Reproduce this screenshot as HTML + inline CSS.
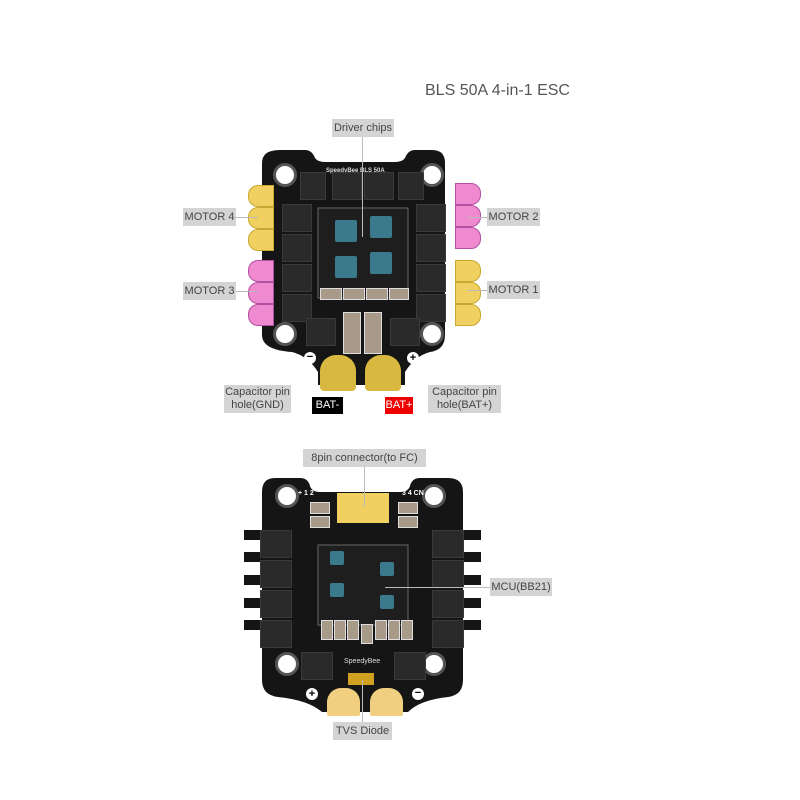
<!DOCTYPE html>
<html><head><style>
body{margin:0;width:800px;height:800px;background:#fff;position:relative;overflow:hidden;font-family:"Liberation Sans",sans-serif}
.a{position:absolute}
.lb{position:absolute;background:#d4d4d4;color:#444;font-size:11px;text-align:center;line-height:18px}
.ln{position:absolute;background:#bbb}
.m{position:absolute;background:#2a2a2a;border:1px solid #3a3a3a}
.chip{position:absolute;background:#3a7a8c;border-radius:2px}
.hole{position:absolute;width:18px;height:18px;border-radius:50%;background:#fff;border:3px solid #555}
.py{position:absolute;width:24px;height:20px;background:#f0d060;border-radius:0 10px 10px 0;border:1px solid #c8a830}
.pp{position:absolute;width:24px;height:20px;background:#f08ad0;border-radius:0 10px 10px 0;border:1px solid #b050a0}
.l{border-radius:10px 0 0 10px}
.cap{position:absolute;background:#a89a88;border:1px solid #ddd}
</style></head><body>
<div class="a" style="left:425px;top:82px;font-size:16px;color:#555">BLS 50A 4-in-1 ESC</div>

<svg class="a" style="left:0;top:0" width="800" height="800">
<path d="M280 150 H305 Q312 150 315 158 Q318 162 325 162 H395 Q402 162 405 158 Q408 150 415 150 H432 Q445 150 445 163 V335 Q445 350 430 352 Q415 356 405 372 V385 H318 V372 Q308 356 292 352 Q262 350 262 335 V163 Q262 150 280 150Z" fill="#151515"/>
<path d="M275 478 H300 Q308 478 310 486 Q312 492 320 492 H400 Q408 492 410 486 Q412 478 420 478 H448 Q463 478 463 492 V680 Q463 695 448 697 Q420 700 408 712 H322 Q308 700 278 697 Q262 695 262 680 V492 Q262 478 275 478Z" fill="#151515"/>
<rect x="244" y="530" width="20" height="10" fill="#151515"/><rect x="244" y="552" width="20" height="10" fill="#151515"/><rect x="244" y="575" width="20" height="10" fill="#151515"/><rect x="244" y="598" width="20" height="10" fill="#151515"/><rect x="244" y="620" width="20" height="10" fill="#151515"/>
<rect x="461" y="530" width="20" height="10" fill="#151515"/><rect x="461" y="552" width="20" height="10" fill="#151515"/><rect x="461" y="575" width="20" height="10" fill="#151515"/><rect x="461" y="598" width="20" height="10" fill="#151515"/><rect x="461" y="620" width="20" height="10" fill="#151515"/>
<rect x="318" y="208" width="90" height="90" fill="#1e1e1e" stroke="#666" stroke-width="1"/>
<rect x="318" y="545" width="90" height="80" fill="#1e1e1e" stroke="#666" stroke-width="1"/>
</svg>
<div class="hole" style="left:273px;top:163px"></div><div class="hole" style="left:420px;top:163px"></div>
<div class="hole" style="left:273px;top:322px"></div><div class="hole" style="left:420px;top:322px"></div>
<div class="a" style="left:326px;top:168px;font-size:6px;color:#ddd;font-weight:bold">SpeedyBee BLS 50A</div>
<div class="m" style="left:300px;top:172px;width:24px;height:26px"></div><div class="m" style="left:332px;top:172px;width:28px;height:26px"></div><div class="m" style="left:364px;top:172px;width:28px;height:26px"></div><div class="m" style="left:398px;top:172px;width:24px;height:26px"></div>
<div class="m" style="left:282px;top:204px;width:28px;height:26px"></div><div class="m" style="left:282px;top:234px;width:28px;height:26px"></div><div class="m" style="left:282px;top:264px;width:28px;height:26px"></div><div class="m" style="left:282px;top:294px;width:28px;height:26px"></div>
<div class="m" style="left:416px;top:204px;width:28px;height:26px"></div><div class="m" style="left:416px;top:234px;width:28px;height:26px"></div><div class="m" style="left:416px;top:264px;width:28px;height:26px"></div><div class="m" style="left:416px;top:294px;width:28px;height:26px"></div>
<div class="m" style="left:306px;top:318px;width:28px;height:26px"></div><div class="m" style="left:390px;top:318px;width:28px;height:26px"></div>
<div class="chip" style="left:335px;top:220px;width:22px;height:22px"></div><div class="chip" style="left:370px;top:216px;width:22px;height:22px"></div>
<div class="chip" style="left:335px;top:256px;width:22px;height:22px"></div><div class="chip" style="left:370px;top:252px;width:22px;height:22px"></div>
<div class="cap" style="left:320px;top:288px;width:20px;height:10px"></div><div class="cap" style="left:343px;top:288px;width:20px;height:10px"></div><div class="cap" style="left:366px;top:288px;width:20px;height:10px"></div><div class="cap" style="left:389px;top:288px;width:18px;height:10px"></div>
<div class="cap" style="left:343px;top:312px;width:16px;height:40px"></div><div class="cap" style="left:364px;top:312px;width:16px;height:40px"></div>
<div class="py l" style="left:248px;top:185px"></div><div class="py l" style="left:248px;top:207px"></div><div class="py l" style="left:248px;top:229px"></div>
<div class="pp l" style="left:248px;top:260px"></div><div class="pp l" style="left:248px;top:282px"></div><div class="pp l" style="left:248px;top:304px"></div>
<div class="pp" style="left:455px;top:183px"></div><div class="pp" style="left:455px;top:205px"></div><div class="pp" style="left:455px;top:227px"></div>
<div class="py" style="left:455px;top:260px"></div><div class="py" style="left:455px;top:282px"></div><div class="py" style="left:455px;top:304px"></div>
<div class="a" style="left:320px;top:355px;width:36px;height:36px;border-radius:16px 16px 4px 4px;background:#d8b840"></div>
<div class="a" style="left:365px;top:355px;width:36px;height:36px;border-radius:16px 16px 4px 4px;background:#d8b840"></div>
<div class="a" style="left:304px;top:352px;width:12px;height:12px;border-radius:50%;background:#fff;font-size:11px;line-height:11px;text-align:center;font-weight:bold">−</div>
<div class="a" style="left:407px;top:352px;width:12px;height:12px;border-radius:50%;background:#fff;font-size:11px;line-height:12px;text-align:center;font-weight:bold">+</div>

<div class="hole" style="left:275px;top:484px"></div><div class="hole" style="left:422px;top:484px"></div>
<div class="hole" style="left:275px;top:652px"></div><div class="hole" style="left:422px;top:652px"></div>
<div class="a" style="left:337px;top:493px;width:52px;height:30px;background:#f0d060"></div>
<div class="cap" style="left:310px;top:502px;width:18px;height:10px"></div><div class="cap" style="left:310px;top:516px;width:18px;height:10px"></div>
<div class="cap" style="left:398px;top:502px;width:18px;height:10px"></div><div class="cap" style="left:398px;top:516px;width:18px;height:10px"></div>
<div class="a" style="left:298px;top:490px;font-size:7px;color:#fff;font-weight:bold">+ 1 2</div>
<div class="a" style="left:402px;top:490px;font-size:7px;color:#fff;font-weight:bold">3 4 CN</div>
<div class="m" style="left:260px;top:530px;width:30px;height:26px"></div><div class="m" style="left:260px;top:560px;width:30px;height:26px"></div><div class="m" style="left:260px;top:590px;width:30px;height:26px"></div><div class="m" style="left:260px;top:620px;width:30px;height:26px"></div>
<div class="m" style="left:432px;top:530px;width:30px;height:26px"></div><div class="m" style="left:432px;top:560px;width:30px;height:26px"></div><div class="m" style="left:432px;top:590px;width:30px;height:26px"></div><div class="m" style="left:432px;top:620px;width:30px;height:26px"></div>
<div class="m" style="left:301px;top:652px;width:30px;height:26px"></div><div class="m" style="left:394px;top:652px;width:30px;height:26px"></div>
<div class="chip" style="left:330px;top:551px;width:14px;height:14px"></div><div class="chip" style="left:380px;top:562px;width:14px;height:14px"></div>
<div class="chip" style="left:330px;top:583px;width:14px;height:14px"></div><div class="chip" style="left:380px;top:595px;width:14px;height:14px"></div>
<div class="cap" style="left:321px;top:620px;width:10px;height:18px"></div><div class="cap" style="left:334px;top:620px;width:10px;height:18px"></div><div class="cap" style="left:347px;top:620px;width:10px;height:18px"></div><div class="cap" style="left:361px;top:624px;width:10px;height:18px"></div><div class="cap" style="left:375px;top:620px;width:10px;height:18px"></div><div class="cap" style="left:388px;top:620px;width:10px;height:18px"></div><div class="cap" style="left:401px;top:620px;width:10px;height:18px"></div>
<div class="a" style="left:344px;top:658px;font-size:7px;color:#ddd">SpeedyBee</div>
<div class="a" style="left:348px;top:673px;width:26px;height:12px;background:#d0a020"></div>
<div class="a" style="left:327px;top:688px;width:33px;height:28px;border-radius:14px 14px 2px 2px;background:#f0d080"></div>
<div class="a" style="left:370px;top:688px;width:33px;height:28px;border-radius:14px 14px 2px 2px;background:#f0d080"></div>
<div class="a" style="left:306px;top:688px;width:12px;height:12px;border-radius:50%;background:#fff;font-size:11px;line-height:12px;text-align:center;font-weight:bold">+</div>
<div class="a" style="left:412px;top:688px;width:12px;height:12px;border-radius:50%;background:#fff;font-size:11px;line-height:11px;text-align:center;font-weight:bold">−</div>

<div class="ln" style="left:362px;top:137px;width:1px;height:100px"></div>
<div class="ln" style="left:236px;top:217px;width:22px;height:1px"></div>
<div class="ln" style="left:236px;top:291px;width:22px;height:1px"></div>
<div class="ln" style="left:467px;top:217px;width:20px;height:1px"></div>
<div class="ln" style="left:467px;top:290px;width:20px;height:1px"></div>
<div class="ln" style="left:364px;top:467px;width:1px;height:40px"></div>
<div class="ln" style="left:385px;top:587px;width:105px;height:1px"></div>
<div class="ln" style="left:362px;top:680px;width:1px;height:42px"></div>

<div class="lb" style="left:332px;top:119px;width:62px">Driver chips</div>
<div class="lb" style="left:183px;top:208px;width:53px">MOTOR 4</div>
<div class="lb" style="left:183px;top:282px;width:53px">MOTOR 3</div>
<div class="lb" style="left:487px;top:208px;width:53px">MOTOR 2</div>
<div class="lb" style="left:487px;top:281px;width:53px">MOTOR 1</div>
<div class="lb" style="left:224px;top:385px;width:67px;line-height:13px;padding:1px 0">Capacitor pin<br>hole(GND)</div>
<div class="lb" style="left:428px;top:385px;width:73px;line-height:13px;padding:1px 0">Capacitor pin<br>hole(BAT+)</div>
<div class="lb" style="left:312px;top:397px;width:31px;background:#000;color:#fff;line-height:17px">BAT-</div>
<div class="lb" style="left:385px;top:397px;width:28px;background:#e00;color:#fff;line-height:17px">BAT+</div>
<div class="lb" style="left:303px;top:449px;width:123px">8pin connector(to FC)</div>
<div class="lb" style="left:490px;top:578px;width:62px">MCU(BB21)</div>
<div class="lb" style="left:333px;top:722px;width:59px">TVS Diode</div>
</body></html>
